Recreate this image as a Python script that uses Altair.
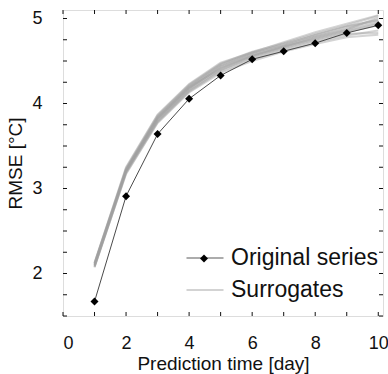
import altair as alt
import pandas as pd

days = [1, 2, 3, 4, 5, 6, 7, 8, 9, 10]
original = [1.67, 2.91, 3.64, 4.055, 4.33, 4.52, 4.615, 4.71, 4.83, 4.92]

surrogates = [
    [2.07, 3.18, 3.78, 4.14, 4.38, 4.52, 4.62, 4.72, 4.80, 4.86],
    [2.09, 3.20, 3.80, 4.16, 4.40, 4.55, 4.65, 4.75, 4.84, 4.92],
    [2.10, 3.21, 3.82, 4.18, 4.42, 4.56, 4.66, 4.77, 4.86, 4.95],
    [2.11, 3.22, 3.83, 4.19, 4.44, 4.58, 4.68, 4.79, 4.88, 4.97],
    [2.12, 3.23, 3.84, 4.20, 4.45, 4.59, 4.70, 4.80, 4.90, 4.99],
    [2.08, 3.19, 3.81, 4.17, 4.43, 4.57, 4.67, 4.78, 4.87, 5.01],
    [2.13, 3.24, 3.86, 4.22, 4.47, 4.61, 4.71, 4.82, 4.92, 5.03],
    [2.10, 3.22, 3.85, 4.21, 4.46, 4.60, 4.69, 4.81, 4.91, 4.98],
    [2.09, 3.20, 3.79, 4.15, 4.39, 4.54, 4.64, 4.74, 4.82, 4.83],
    [2.11, 3.21, 3.83, 4.19, 4.41, 4.56, 4.67, 4.76, 4.85, 4.94],
    [2.12, 3.25, 3.87, 4.23, 4.48, 4.60, 4.72, 4.84, 4.94, 5.04],
    [2.08, 3.17, 3.77, 4.13, 4.36, 4.50, 4.61, 4.70, 4.78, 4.81],
]

x_tick_values = [0, 1, 2, 3, 4, 5, 6, 7, 8, 9, 10]
x_label_values = [0, 2, 4, 6, 8, 10]
y_tick_values = [1.5, 1.75, 2.0, 2.25, 2.5, 2.75, 3.0, 3.25, 3.5, 3.75,
                 4.0, 4.25, 4.5, 4.75, 5.0]
y_label_values = [2, 3, 4, 5]

labels = ["Original series", "Surrogates"]

W, H = 320, 306
FONT = "Liberation Sans"

rows = []
for i, s in enumerate(surrogates):
    for d, v in zip(days, s):
        rows.append({"series": i, "day": d, "rmse": v, "label": labels[1]})
sur_df = pd.DataFrame(rows)
orig_df = pd.DataFrame({"day": days, "rmse": original, "label": labels[0]})
xt_df = pd.DataFrame({"t": x_tick_values})
yt_df = pd.DataFrame({"t": y_tick_values})

xscale = alt.Scale(domain=[0, 10.15], nice=False, zero=False)
yscale = alt.Scale(domain=[1.5, 5.1], nice=False, zero=False)

color = alt.Color(
    "label:N",
    scale=alt.Scale(domain=labels, range=["#4a4a4a", "#a0a0a0"]),
    legend=alt.Legend(
        title=None, orient="none", legendX=122, legendY=228,
        symbolType="stroke", symbolSize=1369, symbolStrokeWidth=2.2,
        labelFontSize=23, labelFont=FONT, labelColor="#111",
        rowPadding=-20, padding=0, labelOffset=6,
    ),
)

x_enc = alt.X(
    "day:Q", scale=xscale,
    axis=alt.Axis(values=x_label_values, title="Prediction time [day]",
                  format="d",
                  grid=False, domain=False, ticks=False, labelPadding=18,
                  labelFontSize=18, labelFont=FONT, labelColor="#111",
                  titleFontSize=19, titleFont=FONT, titleFontWeight="normal",
                  titleColor="#111", titlePadding=2),
)
y_enc = alt.Y(
    "rmse:Q", scale=yscale,
    axis=alt.Axis(values=y_label_values, title="RMSE [°C]", format="d",
                  grid=False, domain=False, ticks=False, labelPadding=21,
                  labelFontSize=18, labelFont=FONT, labelColor="#111",
                  titleFontSize=19, titleFont=FONT, titleFontWeight="normal",
                  titleColor="#111", titlePadding=6),
)

sur_layer = alt.Chart(sur_df).mark_line(strokeWidth=2, opacity=0.45).encode(
    x=x_enc, y=y_enc, color=color, detail="series:N"
)

orig_line = alt.Chart(orig_df).mark_line(strokeWidth=1).encode(
    x=alt.X("day:Q", scale=xscale), y=alt.Y("rmse:Q", scale=yscale), color=color
)

orig_pts = alt.Chart(orig_df).mark_point(
    shape="diamond", filled=True, color="#000", size=64, opacity=1
).encode(
    x=alt.X("day:Q", scale=xscale), y=alt.Y("rmse:Q", scale=yscale),
    shape=alt.Shape(
        "label:N",
        scale=alt.Scale(domain=[labels[0]], range=["diamond"]),
        legend=alt.Legend(
            title=None, orient="none", legendX=129.5, legendY=237,
            symbolSize=64, symbolFillColor="#000", symbolStrokeWidth=0,
            labelFontSize=23, labelFont=FONT, labelExpr="''",
            rowPadding=4, padding=0, symbolType="diamond",
        ),
    ),
)

tick_len = 4
xb = alt.Chart(xt_df).mark_rule(color="#111", strokeWidth=1).encode(
    x=alt.X("t:Q", scale=xscale), y=alt.value(H), y2=alt.value(H - tick_len))
xtp = alt.Chart(xt_df).mark_rule(color="#111", strokeWidth=1).encode(
    x=alt.X("t:Q", scale=xscale), y=alt.value(0), y2=alt.value(tick_len))
yl = alt.Chart(yt_df).mark_rule(color="#111", strokeWidth=1).encode(
    y=alt.Y("t:Q", scale=yscale), x=alt.value(0), x2=alt.value(tick_len))
yr = alt.Chart(yt_df).mark_rule(color="#111", strokeWidth=1).encode(
    y=alt.Y("t:Q", scale=yscale), x=alt.value(W), x2=alt.value(W - tick_len))

chart = alt.layer(sur_layer, orig_line, orig_pts, xb, xtp, yl, yr).properties(
    width=W, height=H, autosize="none",
    padding={"left": 63, "top": 10, "right": 5, "bottom": 58},
).configure_view(stroke="#111", strokeWidth=1.6).configure(background="white")

chart.save("out.html", embed_options={"renderer": "svg", "actions": False})
